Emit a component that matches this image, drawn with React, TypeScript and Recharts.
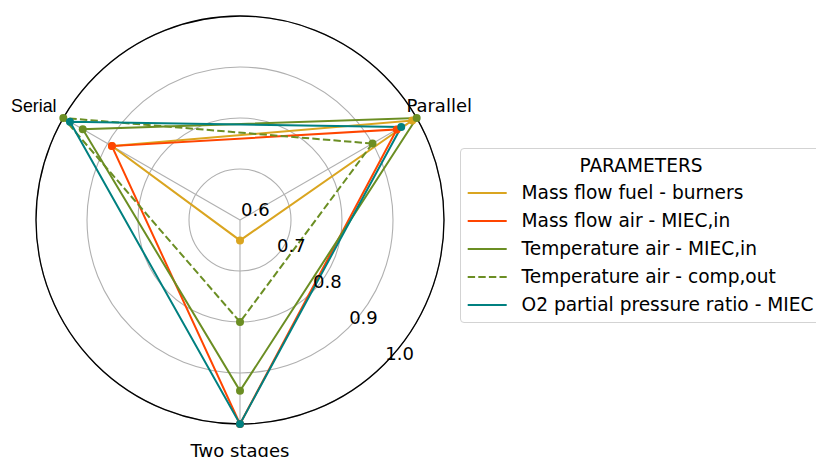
import React from 'react';
import { RadarChart, Radar, PolarGrid, PolarAngleAxis, PolarRadiusAxis, Legend } from 'recharts';

const categories = ['Parallel', 'Two stages', 'Serial'];
const massFlowFuelBurners = [0.99, 0.64, 0.89];
const massFlowAirMiecIn = [0.955, 1.0, 0.89];
const temperatureAirMiecIn = [1.0, 0.935, 0.956];
const temperatureAirCompOut = [0.9, 0.8, 1.0];
const o2PartialPressureRatio = [0.965, 1.0, 0.985];
const radiusTicks = [0.6, 0.7, 0.8, 0.9, 1.0];
const legendTitle = 'PARAMETERS';

const series = [
  { key: 'fuel', name: 'Mass flow fuel - burners', values: massFlowFuelBurners, color: '#DAA520', dash: undefined as string | undefined },
  { key: 'airIn', name: 'Mass flow air - MIEC,in', values: massFlowAirMiecIn, color: '#FF4500', dash: undefined },
  { key: 'tempIn', name: 'Temperature air - MIEC,in', values: temperatureAirMiecIn, color: '#6B8E23', dash: undefined },
  { key: 'tempOut', name: 'Temperature air - comp,out', values: temperatureAirCompOut, color: '#6B8E23', dash: '7.4 3.2' },
  { key: 'o2', name: 'O2 partial pressure ratio - MIEC', values: o2PartialPressureRatio, color: '#008080', dash: undefined },
];

const data = categories.map((name, i) => {
  const row: Record<string, any> = { name };
  series.forEach((s) => { row[s.key] = s.values[i]; });
  return row;
});

const CX = 240;
const CY = 220;
const OUTER_R = 204;
const LABEL_R = 230;
const FONT = '"DejaVu Sans", sans-serif';
const labelStyle: Record<string, { family: string; size: number; dx: number }> = {
  Serial: { family: '"Liberation Sans", sans-serif', size: 17.8, dx: -7 },
};

const renderAngleTick = (props: any) => {
  const angle = props.payload.coordinate;
  const rad = (angle * Math.PI) / 180;
  const x = CX + LABEL_R * Math.cos(rad);
  const y = CY - LABEL_R * Math.sin(rad);
  const f = labelStyle[props.payload.value] || { family: FONT, size: 18, dx: 0 };
  return (
    <text x={x + f.dx} y={y + 6.5} textAnchor="middle" fontSize={f.size} fontFamily={f.family} fill="#000">
      {props.payload.value}
    </text>
  );
};

const renderRadiusTick = (props: any) => {
  const v = Number(props.payload.value);
  return (
    <text x={props.x + 1} y={props.y - 4.5} textAnchor="start" fontSize={18} fontFamily={FONT} fill="#000">
      {v.toFixed(1)}
    </text>
  );
};

const makeDot = (color: string) => (p: any) => (
  <circle key={`dot-${p.index}`} cx={p.cx} cy={p.cy} r={4} fill={color} stroke="none" />
);

const renderLegend = () => (
  <div
    style={{
      position: 'relative',
      width: 362,
      height: 175,
      boxSizing: 'border-box',
      border: '1px solid #d3d3d3',
      borderRadius: 4,
      background: 'rgba(255,255,255,0.8)',
      fontFamily: FONT,
      fontSize: 18.6,
      color: '#000',
    }}
  >
    <div style={{ position: 'absolute', left: 0, right: 0, top: 2.5, height: 28, lineHeight: '28px', textAlign: 'center' }}>
      {legendTitle}
    </div>
    {series.map((s, i) => (
      <div key={s.key} style={{ position: 'absolute', left: 0, top: 30 + i * 28.1, height: 28, width: 362 }}>
        <svg width={40} height={28} style={{ position: 'absolute', left: 6, top: 0 }}>
          <line x1={0.7} y1={14} x2={39.7} y2={14} stroke={s.color} strokeWidth={2} strokeDasharray={s.dash} />
        </svg>
        <span style={{ position: 'absolute', left: 60.5, top: 0, lineHeight: '28px', whiteSpace: 'nowrap' }}>{s.name}</span>
      </div>
    ))}
  </div>
);

export default function App() {
  return (
    <div style={{ position: 'absolute', left: 0, top: 0, width: 816, height: 457, background: '#fff', overflow: 'hidden' }}>
      <RadarChart
        width={816}
        height={457}
        cx={CX}
        cy={CY}
        outerRadius={OUTER_R}
        startAngle={30}
        endAngle={-330}
        data={data}
        margin={{ top: 0, right: 0, bottom: 0, left: 0 }}
      >
        <PolarGrid gridType="circle" stroke="#b0b0b0" strokeWidth={1.1} />
        <PolarAngleAxis
          dataKey="name"
          axisLineType="circle"
          axisLine={{ stroke: '#000', strokeWidth: 1.3 }}
          tickLine={false}
          tick={renderAngleTick}
        />
        {series.map((s) => (
          <Radar
            key={s.key}
            name={s.name}
            dataKey={s.key}
            stroke={s.color}
            strokeWidth={2}
            strokeDasharray={s.dash}
            fill="none"
            fillOpacity={0}
            dot={makeDot(s.color)}
            isAnimationActive={false}
          />
        ))}
        <PolarRadiusAxis
          type="number"
          domain={[0.6, 1.0]}
          ticks={radiusTicks}
          angle={-45}
          axisLine={false}
          tickLine={false}
          tick={renderRadiusTick}
          allowDataOverflow
        />
        <Legend
          content={renderLegend}
          wrapperStyle={{ position: 'absolute', left: 460, top: 148, width: 362, height: 175 }}
        />
      </RadarChart>
    </div>
  );
}
